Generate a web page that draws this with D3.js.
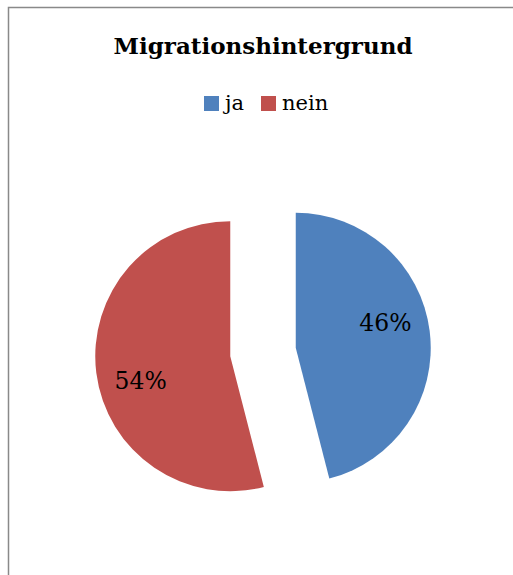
<!doctype html>
<html lang="de">
<head>
<meta charset="UTF-8" />
<title>Migrationshintergrund</title>
<script src="https://d3js.org/d3.v7.min.js"></script>
<style>
  body { margin: 0; background: #fff; }
  svg { display: block; }
</style>
</head>
<body>
<svg id="chart"></svg>
<script>
const categories = ["ja", "nein"];
const values = [46, 54];
const colors = ["#4F81BD", "#C0504D"];

const width = 513, height = 575;
const cx = 263, cy = 352, radius = 135, explode = 33;
const font = "'DejaVu Serif', 'Liberation Serif', serif";

const svg = d3.select("#chart")
  .attr("width", width)
  .attr("height", height);

// frame (runs off the right and bottom edges)
svg.append("rect")
  .attr("x", 8.5).attr("y", 7.5)
  .attr("width", 520).attr("height", 580)
  .attr("fill", "#fff")
  .attr("stroke", "#898989")
  .attr("stroke-width", 1.5);

svg.append("text")
  .attr("x", 263).attr("y", 54)
  .attr("text-anchor", "middle")
  .attr("font-family", font)
  .attr("font-weight", "bold")
  .attr("font-size", "23px")
  .attr("fill", "#000")
  .text("Migrationshintergrund");

// legend
const legend = svg.append("g").attr("transform", "translate(204,96)");
const legX = [0, 57];
categories.forEach((c, i) => {
  const g = legend.append("g").attr("transform", `translate(${legX[i]},0)`);
  g.append("rect").attr("width", 15).attr("height", 15).attr("fill", colors[i]);
  g.append("text")
    .attr("x", 21).attr("y", 14)
    .attr("font-family", font)
    .attr("font-size", "21px")
    .attr("fill", "#000")
    .text(c);
});

const pie = d3.pie().sort(null).value(d => d);
const arcs = pie(values);
const arc = d3.arc().innerRadius(0).outerRadius(radius);
const labelR = radius * 0.69, labelShift = -0.15;

const g = svg.append("g").attr("transform", `translate(${cx},${cy})`);

arcs.forEach((a, i) => {
  const mid = (a.startAngle + a.endAngle) / 2;
  const dx = Math.sin(mid) * explode, dy = -Math.cos(mid) * explode;
  const s = g.append("g").attr("transform", `translate(${dx},${dy})`);
  s.append("path").attr("d", arc(a)).attr("fill", colors[i]);
  const la = mid + labelShift;
  s.append("text")
    .attr("x", Math.sin(la) * labelR).attr("y", -Math.cos(la) * labelR)
    .attr("text-anchor", "middle")
    .attr("dominant-baseline", "central")
    .attr("font-family", font)
    .attr("font-size", "23.5px")
    .attr("fill", "#000")
    .text(values[i] + "%");
});
</script>
</body>
</html>
